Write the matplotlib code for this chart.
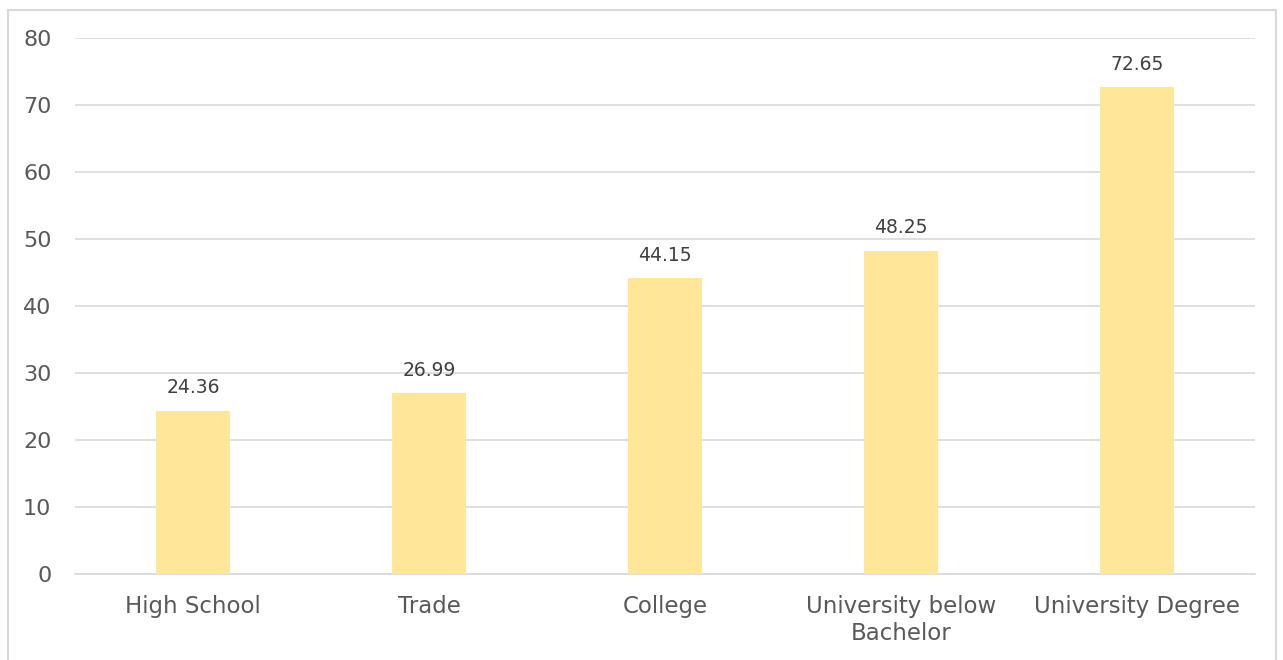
import matplotlib.pyplot as plt
from matplotlib.patches import Rectangle

categories = ["High School", "Trade", "College", "University below\nBachelor", "University Degree"]
values = [24.36, 26.99, 44.15, 48.25, 72.65]
yticks = [0, 10, 20, 30, 40, 50, 60, 70, 80]

txt = "#595959"
plt.rcParams['font.family'] = ['DejaVu Sans']

fig = plt.figure(figsize=(12.83, 6.60), dpi=100)
# chart border
fig.patches.append(Rectangle((8 / 1283, -0.01), 1268 / 1283, 1 - 10 / 660 + 0.01,
                             transform=fig.transFigure, fill=False,
                             edgecolor="#d9d9d9", linewidth=1.5))

ax = fig.add_axes([75 / 1283, 1 - 574 / 660, 1180 / 1283, 536 / 660])
x = range(len(categories))
bars = ax.bar(x, values, width=0.314, color="#FFE699", zorder=3)
for b, v in zip(bars, values):
    ax.text(b.get_x() + b.get_width() / 2, v + 2.0, f"{v:.2f}", ha="center", va="bottom",
            fontsize=13.5, color="#404040")

ax.set_xlim(-0.5, len(categories) - 0.5)
ax.set_ylim(0, 80)
ax.set_yticks(yticks)
ax.set_xticks(list(x))
ax.set_xticklabels(categories, fontsize=16.5, color=txt, linespacing=1.25)
ax.tick_params(axis="y", labelsize=16, labelcolor=txt, length=0, pad=17)
ax.tick_params(axis="x", length=0, pad=15)
ax.grid(axis="y", color="#d9d9d9", linewidth=1.2, zorder=0)
for s in ["top", "right", "left"]:
    ax.spines[s].set_visible(False)
ax.spines["bottom"].set_color("#d9d9d9")
ax.spines["bottom"].set_linewidth(1.2)

fig.savefig("out.png", dpi=100)
